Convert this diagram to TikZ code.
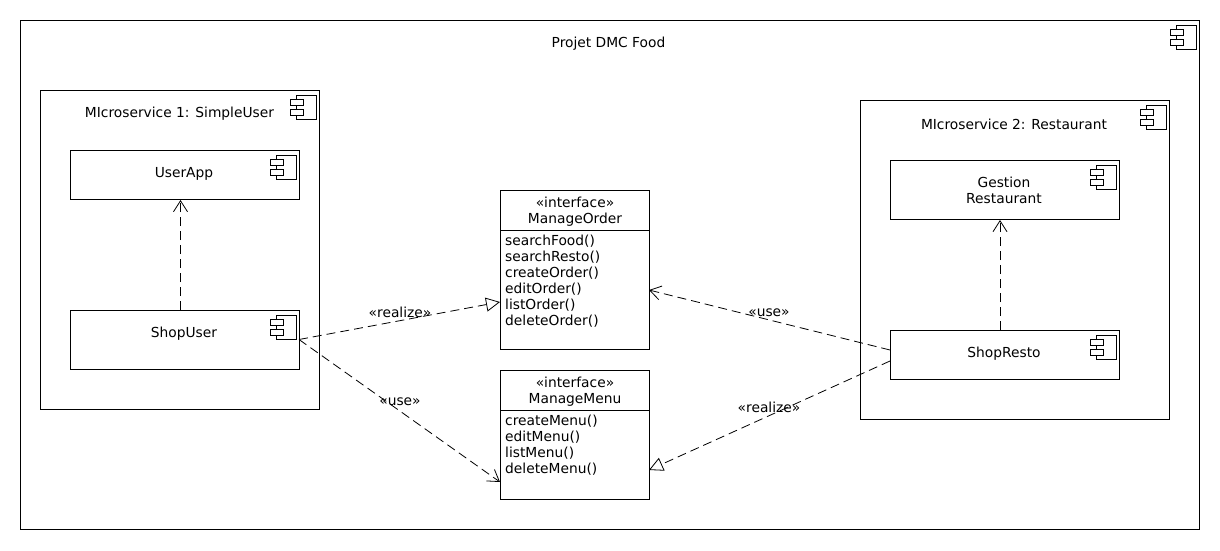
\documentclass[tikz,border=0pt]{standalone}
\usepackage{fontspec}
\setmainfont{DejaVu Sans}
\usepackage{tikz}
\usetikzlibrary{arrows.meta, positioning, calc}
\tikzstyle{box} = [draw=black, rectangle, anchor=north west, inner sep=0pt, outer sep=0pt, line width=0.9pt]
\tikzstyle{txt} = [inner sep=0pt, align=center, font=\fontsize{13.8}{16}\selectfont]
\tikzstyle{members} = [inner sep=0pt, anchor=north west, align=left, font=\fontsize{13.8}{16}\selectfont]
\tikzstyle{use} = [line width=0.8pt, dash pattern=on 9pt off 5pt, -{Straight Barb[length=11pt,width=14pt,line width=0.8pt]}]
\tikzstyle{realize} = [line width=0.8pt, dash pattern=on 9pt off 5pt, -{Triangle[open,length=14pt,width=14pt,line width=0.8pt]}]
% small component symbol in the corner of a box
\newcommand{\compicon}[1]{
    \draw[line width=0.8pt] ($(#1.north east)+(-23,5)$) rectangle ++(20,24.5);
    \draw[line width=0.8pt, fill=white] ($(#1.north east)+(-29,9)$) rectangle ++(13,6.5);
    \draw[line width=0.8pt, fill=white] ($(#1.north east)+(-29,19)$) rectangle ++(13,6.5);
}
\begin{document}
\begin{tikzpicture}[x=1pt, y=-1pt]
    \useasboundingbox (0,0) rectangle (1220,550);
    % boxes
    \node[box, minimum width=1179pt, minimum height=509pt] (projet) at (20,20) {};
    \node[box, minimum width=279pt, minimum height=319pt] (micro1) at (40,90) {};
    \node[box, minimum width=229pt, minimum height=49pt] (userapp) at (70,150) {};
    \node[box, minimum width=229pt, minimum height=59pt] (shopuser) at (70,310) {};
    \node[box, minimum width=309pt, minimum height=319pt] (micro2) at (860,100) {};
    \node[box, minimum width=229pt, minimum height=59pt] (gestion) at (890,160) {};
    \node[box, minimum width=229pt, minimum height=49pt] (shopresto) at (890,330) {};
    \node[box, minimum width=149pt, minimum height=159pt] (manageorder) at (500,190) {};
    \node[box, minimum width=149pt, minimum height=129pt] (managemenu) at (500,370) {};
    \draw[line width=0.9pt] ($(manageorder.north west)+(0,40)$) -- ($(manageorder.north east)+(0,40)$);
    \draw[line width=0.9pt] ($(managemenu.north west)+(0,40)$) -- ($(managemenu.north east)+(0,40)$);
    \compicon{projet}
    \compicon{micro1}
    \compicon{userapp}
    \compicon{shopuser}
    \compicon{micro2}
    \compicon{gestion}
    \compicon{shopresto}
    % texts
    \node[txt] (projettxt) at (608.5,44) {Projet DMC Food};
    \node[txt] (micro1txt) at (179.5,114) {MIcroservice 1: SimpleUser};
    \node[txt] (userapptxt) at (184,174) {UserApp};
    \node[txt] (shopusertxt) at (184,334) {ShopUser};
    \node[txt] (micro2txt) at (1014,124) {MIcroservice 2: Restaurant};
    \node[txt] (gestiontxt) at (1004,190) {Gestion\\Restaurant};
    \node[txt] (shoprestotxt) at (1004,354) {ShopResto};
    \node[txt] (ordertitle) at (575,212) {«interface»\\ManageOrder};
    \node[members] (ordermembers) at (505,235) {searchFood()\\searchResto()\\createOrder()\\editOrder()\\listOrder()\\deleteOrder()};
    \node[txt] (menutitle) at (575,392) {«interface»\\ManageMenu};
    \node[members] (menumembers) at (505,415) {createMenu()\\editMenu()\\listMenu()\\deleteMenu()};
    % connectors
    \coordinate (usertop) at (180.5,310);
    \coordinate (appbottom) at (180.5,200);
    \coordinate (restotop) at (1000,330);
    \coordinate (gestionbottom) at (1000,220);
    \coordinate (orderleft) at (500,302);
    \coordinate (menuleft) at (500,482);
    \coordinate (orderright) at (649,290);
    \coordinate (menuright) at (649,470);
    \coordinate (restouse) at (890,350);
    \coordinate (restorealize) at (890,361);
    \draw[use] (usertop) -- (appbottom);
    \draw[use] (restotop) -- (gestionbottom);
    \draw[realize] (shopuser.east) -- (orderleft);
    \draw[use] (shopuser.east) -- (menuleft);
    \draw[use] (restouse) -- (orderright);
    \draw[realize] (restorealize) -- (menuright);
    \node[txt] (realize1) at (400,312) {«realize»};
    \node[txt] (use1) at (400,402) {«use»};
    \node[txt] (use2) at (769,312.5) {«use»};
    \node[txt] (realize2) at (769,407) {«realize»};
\end{tikzpicture}
\end{document}
